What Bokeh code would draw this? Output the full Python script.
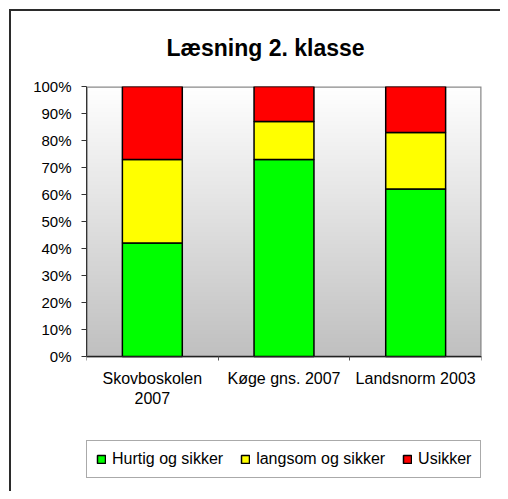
import numpy as np
from bokeh.plotting import figure
from bokeh.models import (ColumnDataSource, FixedTicker, PrintfTickFormatter,
                          Legend, LegendItem, Range1d, InlineStyleSheet)
from bokeh.embed import file_html
from bokeh.resources import INLINE

# ---- data ----
chart_title = "Læsning 2. klasse"
categories = ["Skovboskolen\n2007", "Køge gns. 2007", "Landsnorm 2003"]
series = ["Hurtig og sikker", "langsom og sikker", "Usikker"]
hurtig = [42, 73, 62]
langsom = [31, 14, 21]
usikker = [27, 13, 17]
colors = ["#00ff00", "#ffff00", "#ff0000"]
y_ticks = list(range(0, 101, 10))

FONT = "Liberation Sans"

# layout (pixels)
PLOT_H = 270          # height of the 0..100 % plot area
FRAME_H = 396         # frame extends below the plot area to hold the legend
FRAME_W = 395

xs = list(range(len(categories)))
src = ColumnDataSource(dict(x=xs, hurtig=hurtig, langsom=langsom, usikker=usikker))

y_start = -100.0 * (FRAME_H - PLOT_H) / PLOT_H
p = figure(frame_width=FRAME_W, frame_height=FRAME_H,
           x_range=Range1d(-0.5, len(categories) - 0.5),
           y_range=Range1d(y_start, 100), output_backend="svg",
           toolbar_location=None,
           min_border_left=86, min_border_right=19, min_border_top=86,
           min_border_bottom=9)

# outer chart border (top/left visible, rest runs off the picture)
p.stylesheets = [InlineStyleSheet(css=""":host::after {
  content: ""; position: absolute; left: 9px; top: 9px; right: 0; bottom: 0;
  border-left: 2px solid #2b2b2b; border-top: 2px solid #2b2b2b;
  pointer-events: none; }""")]

# gradient background of plot area (white top -> grey bottom)
n = 256
g = np.linspace(192, 255, n).astype(np.uint8)
img = np.zeros((n, 1), dtype=np.uint32)
view = img.view(dtype=np.uint8).reshape((n, 1, 4))
view[:, 0, 0] = g
view[:, 0, 1] = g
view[:, 0, 2] = g
view[:, 0, 3] = 255
p.image_rgba(image=[img], x=-0.5, y=0, dw=len(categories), dh=100)
p.quad(left=-0.5, right=len(categories) - 0.5, bottom=0, top=100,
       fill_color=None, line_color="#8a8a8a", line_width=2.5)

renderers = p.vbar_stack(["hurtig", "langsom", "usikker"], x="x", width=0.455,
                         fill_color=colors, line_color="black", line_width=1.5,
                         source=src)

# title
p.title.text = chart_title
p.title.text_font = FONT
p.title.text_font_size = "23px"
p.title.text_font_style = "bold"
p.title.text_color = "black"
p.title.align = "left"
p.title.offset = 80
p.title.standoff = 52

# axes
p.xgrid.visible = False
p.ygrid.visible = False
p.outline_line_color = None
p.background_fill_color = "white"
p.border_fill_color = "white"

ya = p.yaxis[0]
ya.ticker = FixedTicker(ticks=y_ticks)
ya.formatter = PrintfTickFormatter(format="%d%%")
ya.bounds = (0, 100)
ya.major_tick_out = 5
ya.major_tick_in = 0
ya.minor_tick_out = 0
ya.minor_tick_in = 0
ya.major_label_standoff = 10
ya.axis_line_color = "#333333"
ya.major_tick_line_color = "#333333"
ya.major_label_text_font = FONT
ya.major_label_text_font_size = "15px"
ya.major_label_text_color = "black"

xa = p.xaxis[0]
xa.fixed_location = 0
xa.ticker = FixedTicker(ticks=xs, minor_ticks=[i - 0.5 for i in range(len(categories) + 1)])
xa.major_label_overrides = {i: c for i, c in zip(xs, categories)}
xa.major_tick_out = 0
xa.major_tick_in = 0
xa.minor_tick_out = 4
xa.minor_tick_in = 0
xa.major_label_standoff = 9
xa.axis_line_color = "#222222"
xa.minor_tick_line_color = "#555555"
xa.major_label_text_font = FONT
xa.major_label_text_font_size = "16px"
xa.major_label_text_color = "black"

legend = Legend(items=[LegendItem(label=s, renderers=[r]) for s, r in zip(series, renderers)],
                orientation="horizontal", location=(0, 4))
legend.label_text_font = FONT
legend.label_text_font_size = "16px"
legend.label_text_color = "black"
legend.glyph_width = 10
legend.glyph_height = 10
legend.label_standoff = 6
legend.spacing = 17
legend.padding = 9
legend.border_line_color = "#555555"
legend.border_line_width = 1
legend.background_fill_color = "white"
legend.background_fill_alpha = 1
p.add_layout(legend, "center")

open("out.html", "w").write(file_html(p, INLINE))
